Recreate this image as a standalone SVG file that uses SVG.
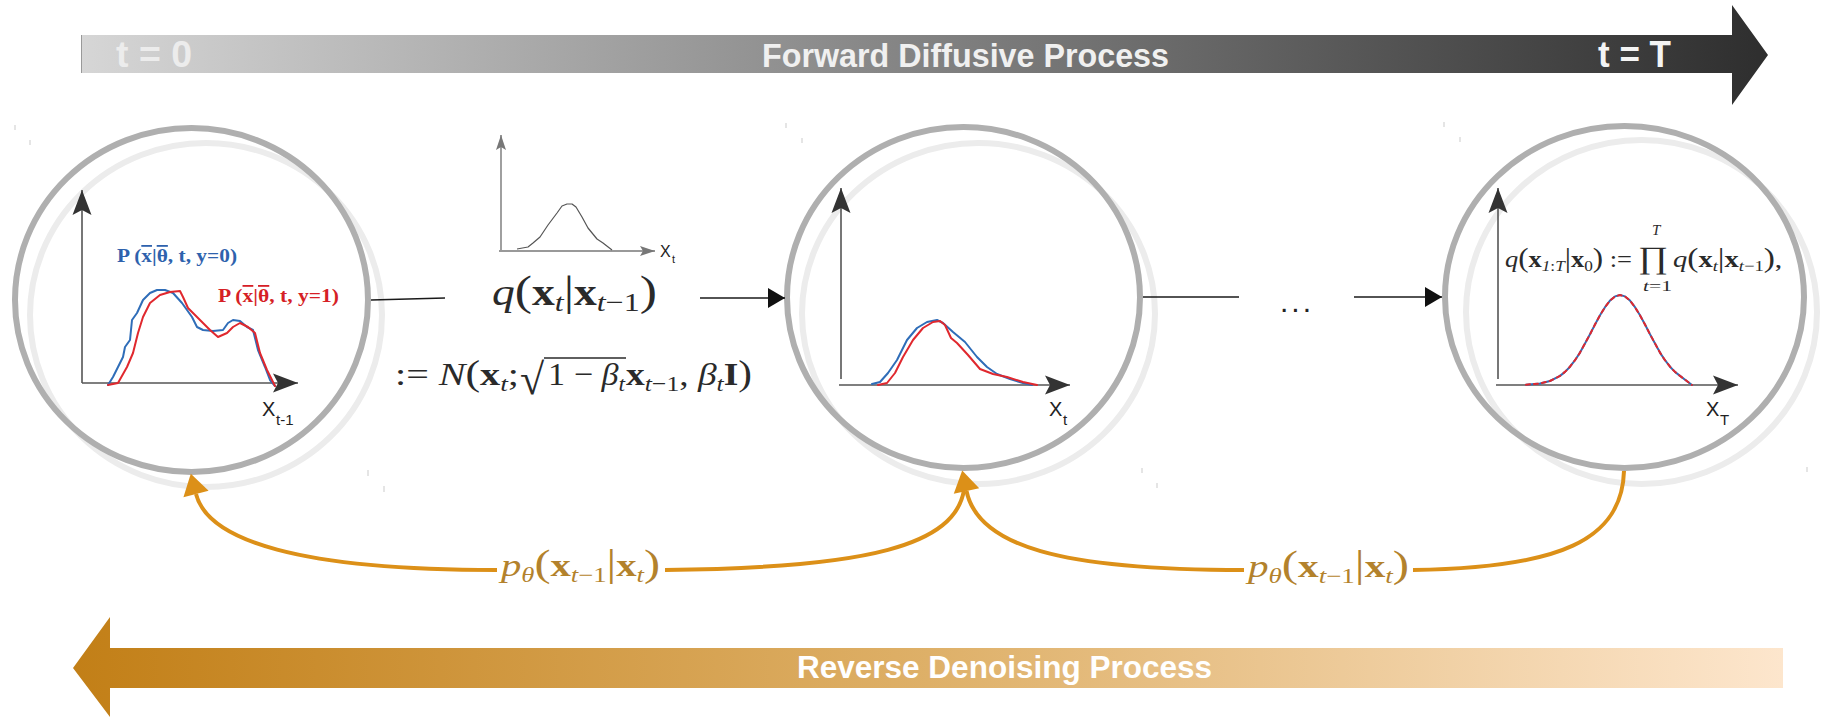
<svg xmlns="http://www.w3.org/2000/svg" width="1824" height="718" viewBox="0 0 1824 718">
<defs>
<linearGradient id="gFwd" gradientUnits="userSpaceOnUse" x1="81" y1="0" x2="1768" y2="0">
<stop offset="0" stop-color="#d6d6d6"/>
<stop offset="1" stop-color="#2e2e2e"/>
</linearGradient>
<linearGradient id="gRev" gradientUnits="userSpaceOnUse" x1="73" y1="0" x2="1783" y2="0">
<stop offset="0" stop-color="#c27f17"/>
<stop offset="0.5" stop-color="#deb068"/>
<stop offset="1" stop-color="#fde6cd"/>
</linearGradient>
<marker id="axisHead" viewBox="-26 -12 28 24" refX="0" refY="0" markerWidth="28" markerHeight="24" markerUnits="userSpaceOnUse" orient="auto">
<path d="M0,0 L-25,-9.5 L-20,0 L-25,9.5 Z" fill="#333"/>
</marker>
<marker id="smallHead" viewBox="-17 -7 19 14" refX="0" refY="0" markerWidth="19" markerHeight="14" markerUnits="userSpaceOnUse" orient="auto">
<path d="M0,0 L-15,-5 L-12,0 L-15,5 Z" fill="#777"/>
</marker>
<marker id="connHead" viewBox="-18 -11 20 22" refX="0" refY="0" markerWidth="20" markerHeight="22" markerUnits="userSpaceOnUse" orient="auto">
<path d="M0,0 L-17,-10 L-17,10 Z" fill="#111"/>
</marker>
<marker id="revHead" viewBox="-22 -14 24 28" refX="-21" refY="0" markerWidth="24" markerHeight="28" markerUnits="userSpaceOnUse" orient="auto">
<path d="M0,0 L-21,-13 L-21,13 Z" fill="#dc9018"/>
</marker>
<style>
.ring { fill:none; stroke:#afafaf; stroke-width:6 }
.ring2 { fill:none; stroke:#ececec; stroke-width:6 }
.axis { stroke:#555; stroke-width:1.6; fill:none; marker-end:url(#axisHead) }
.saxis { stroke:#777; stroke-width:1.4; fill:none; marker-end:url(#smallHead) }
.crop { stroke:#d4d4d4; stroke-width:1.2 }
.conn { stroke:#1a1a1a; stroke-width:1.6; fill:none }
.connA { stroke:#1a1a1a; stroke-width:1.6; fill:none; marker-end:url(#connHead) }
.rev { stroke:#dc9018; stroke-width:4; fill:none }
.revA { stroke:#dc9018; stroke-width:4; fill:none; marker-end:url(#revHead) }
.math { font-family:"Liberation Serif","DejaVu Serif",serif; fill:#2a2a2a }
.plab { font-family:"Liberation Serif","DejaVu Serif",serif; fill:#b3822c; font-size:32px }
.axlbl { font-family:"Liberation Sans","DejaVu Sans",sans-serif; fill:#222 }
.title { font-family:"Liberation Sans","DejaVu Sans",sans-serif; font-weight:bold }
.plbl { font-family:"Liberation Serif","DejaVu Serif",serif; font-weight:bold; font-size:18px }
.blue { stroke:#2f6db8; stroke-width:2; fill:none; stroke-linejoin:round; stroke-linecap:round }
.red { stroke:#e0282e; stroke-width:2; fill:none; stroke-linejoin:round; stroke-linecap:round }
.it { font-style:italic }
.bf { font-weight:bold }
</style>
</defs>

<g id="forward-arrow">
<polygon points="81,35 1732,35 1732,5 1768,55 1732,105 1732,73 81,73" fill="url(#gFwd)"/>
<line x1="81.5" y1="35" x2="81.5" y2="73" stroke="#999" stroke-width="1"/>
<text class="title" x="116" y="67" font-size="37" fill="#ececec" textLength="76" lengthAdjust="spacingAndGlyphs">t = 0</text>
<text class="title" x="762" y="67" font-size="33" fill="#f0f0f0" textLength="407" lengthAdjust="spacingAndGlyphs">Forward Diffusive Process</text>
<text class="title" x="1598" y="67" font-size="37" fill="#f4f4f4" textLength="73" lengthAdjust="spacingAndGlyphs">t = T</text>
</g>

<g id="reverse-arrow">
<polygon points="1783,648 110,648 110,617 73,668 110,717 110,688 1783,688" fill="url(#gRev)"/>
<text class="title" x="797" y="678" font-size="31" fill="#ffffff" textLength="415" lengthAdjust="spacingAndGlyphs">Reverse Denoising Process</text>
</g>

<g id="node-x0">
<ellipse class="ring2" cx="206" cy="315" rx="176" ry="172"/>
<ellipse class="ring" cx="191.5" cy="300" rx="176.5" ry="172"/>
<line class="crop" x1="15" y1="125" x2="15" y2="130"/>
<line class="crop" x1="30" y1="140" x2="30" y2="145"/>
<line class="crop" x1="368" y1="470" x2="368" y2="476"/>
<line class="crop" x1="384" y1="486" x2="384" y2="492"/>
<path class="axis" d="M82,383 L82,190"/>
<path class="axis" d="M82,383 L298,383"/>
<path class="blue" d="M108,385 L113,377 L118,367 L123,357 L125,347 L130,340 L132,320 L137,313 L143,300 L150,293 L157,290 L165,290 L173,293 L182,303 L187,310 L192,317 L197,327 L203,330 L213,331 L223,330 L228,323 L233,320 L240,321 L247,327 L253,330 L258,350 L265,367 L270,380 L275,386"/>
<path class="red" d="M108,385 L118,383 L127,367 L133,353 L138,333 L143,317 L150,303 L160,295 L170,292 L180,291 L183,297 L188,308 L200,320 L210,330 L218,337 L227,333 L233,327 L240,323 L248,327 L255,333 L260,353 L267,370 L275,386"/>
<text class="plbl" x="117" y="262" fill="#2e62ad" textLength="120" lengthAdjust="spacingAndGlyphs">P (<tspan text-decoration="overline">x</tspan>|<tspan text-decoration="overline">θ</tspan>, t, y=0)</text>
<text class="plbl" x="218" y="302" fill="#d61f26" textLength="121" lengthAdjust="spacingAndGlyphs">P (<tspan text-decoration="overline">x</tspan>|<tspan text-decoration="overline">θ</tspan>, t, y=1)</text>
<text class="axlbl" x="262" y="416" font-size="20">X</text>
<text class="axlbl" x="276" y="425" font-size="15">t-1</text>
</g>

<g id="node-xt">
<ellipse class="ring2" cx="978.5" cy="313.5" rx="176.5" ry="170.5"/>
<ellipse class="ring" cx="963.5" cy="297.5" rx="176.5" ry="170.5"/>
<line class="crop" x1="786" y1="123" x2="786" y2="128"/>
<line class="crop" x1="802" y1="138" x2="802" y2="143"/>
<line class="crop" x1="1142" y1="468" x2="1142" y2="473"/>
<line class="crop" x1="1157" y1="483" x2="1157" y2="488"/>
<path class="axis" d="M841,379 L841,188"/>
<path class="axis" d="M839,385 L1070,385"/>
<path class="blue" stroke-width="2.6" d="M872,384 L880,382 L888,373 L897,360 L907,340 L917,328 L927,322 L937,320 L943,323 L953,332 L965,342 L977,357 L987,367 L997,374 L1010,379 L1023,383 L1032,385"/>
<path class="red" stroke-width="2.4" stroke="#e8383d" d="M878,385 L887,383 L895,373 L903,357 L913,340 L923,328 L933,322 L940,321 L945,325 L951,338 L957,343 L968,355 L980,369 L993,374 L1007,377 L1023,382 L1037,385"/>
<text class="axlbl" x="1049" y="416" font-size="20">X</text>
<text class="axlbl" x="1063" y="425" font-size="15">t</text>
</g>

<g id="node-xT">
<ellipse class="ring2" cx="1641.5" cy="312" rx="175.5" ry="172"/>
<ellipse class="ring" cx="1624.5" cy="297" rx="179.5" ry="171"/>
<line class="crop" x1="1444" y1="122" x2="1444" y2="127"/>
<line class="crop" x1="1460" y1="137" x2="1460" y2="142"/>
<line class="crop" x1="1807" y1="467" x2="1807" y2="472"/>
<path class="axis" d="M1498,379 L1498,188"/>
<path class="axis" d="M1496,385 L1738,385"/>
<path class="blue" stroke-width="3" d="M1526,384.7 L1540,383.5 L1550,381 L1560,375.9 L1565,371.9 L1570,366.7 L1575,360.2 L1580,352.6 L1585,343.4 L1590,334.3 L1595,324.5 L1600,315.3 L1605,307.2 L1610,300.6 L1615,296.4 L1620,295 L1625,296.4 L1630,300.6 L1635,307.2 L1640,315.3 L1645,324.5 L1650,334.3 L1655,343.4 L1660,352.6 L1665,360.2 L1670,366.7 L1675,371.9 L1680,375.9 L1692,385"/>
<path class="red" stroke-width="3" stroke-linecap="butt" stroke-dasharray="4 4" d="M1526,384.7 L1540,383.5 L1550,381 L1560,375.9 L1565,371.9 L1570,366.7 L1575,360.2 L1580,352.6 L1585,343.4 L1590,334.3 L1595,324.5 L1600,315.3 L1605,307.2 L1610,300.6 L1615,296.4 L1620,295 L1625,296.4 L1630,300.6 L1635,307.2 L1640,315.3 L1645,324.5 L1650,334.3 L1655,343.4 L1660,352.6 L1665,360.2 L1670,366.7 L1675,371.9 L1680,375.9 L1692,385"/>
<text class="math" x="1505" y="267" font-size="23" textLength="127" lengthAdjust="spacingAndGlyphs"><tspan class="it">q</tspan><tspan font-size="27">(</tspan><tspan class="bf">x</tspan><tspan font-size="15" dy="4"><tspan class="it">1</tspan>:<tspan class="it">T</tspan></tspan><tspan dy="-4" font-size="27">|</tspan><tspan class="bf">x</tspan><tspan font-size="15" dy="4">0</tspan><tspan dy="-4" font-size="27">)</tspan> :=</text>
<text class="math" x="1638" y="268" font-size="31" textLength="30" lengthAdjust="spacingAndGlyphs">∏</text>
<text class="math it" x="1652" y="235" font-size="15">T</text>
<text class="math" x="1643" y="291" font-size="15" textLength="29" lengthAdjust="spacingAndGlyphs"><tspan class="it">t</tspan>=1</text>
<text class="math" x="1673" y="267" font-size="23" textLength="109" lengthAdjust="spacingAndGlyphs"><tspan class="it">q</tspan><tspan font-size="27">(</tspan><tspan class="bf">x</tspan><tspan class="it" font-size="15" dy="4">t</tspan><tspan dy="-4" font-size="27">|</tspan><tspan class="bf">x</tspan><tspan class="it" font-size="15" dy="4">t</tspan><tspan font-size="15">−1</tspan><tspan dy="-4" font-size="27">)</tspan>,</text>
<text class="axlbl" x="1706" y="416" font-size="20">X</text>
<text class="axlbl" x="1720" y="425" font-size="15">T</text>
</g>

<g id="connectors">
<line class="conn" x1="371" y1="300" x2="445" y2="298"/>
<line class="connA" x1="700" y1="298" x2="785" y2="298"/>
<line class="conn" x1="1143" y1="297" x2="1239" y2="297"/>
<line class="connA" x1="1354" y1="297" x2="1442" y2="297"/>
<path class="revA" d="M497,570 C300,570 208,541 196,494"/>
<path class="rev" d="M964,490 C955,545 870,568 665,570"/>
<path class="revA" d="M1244,570 C1060,570 978,546 966.5,491"/>
<path class="rev" d="M1624,471 C1622,540 1560,568 1413,570"/>
</g>

<g id="label-q">
<path class="saxis" d="M501,250 L501,135"/>
<path class="saxis" d="M499,251 L655,251"/>
<path fill="none" stroke="#555" stroke-width="1.2" stroke-linejoin="round" d="M517,249 L528,247 L533,243 L540,237 L548,225 L557,213 L562,206 L567,204 L572,204 L576,207 L582,217 L588,228 L597,239 L603,243 L612,250"/>
<text class="axlbl" x="660" y="257" font-size="16" fill="#555">X</text>
<text class="axlbl" x="672" y="263" font-size="11" fill="#555">t</text>
<text class="math" x="492" y="305" font-size="37" textLength="165" lengthAdjust="spacingAndGlyphs"><tspan class="it">q</tspan><tspan font-size="42">(</tspan><tspan class="bf">x</tspan><tspan class="it" font-size="26" dy="6">t</tspan><tspan dy="-6" font-size="42">|</tspan><tspan class="bf">x</tspan><tspan class="it" font-size="26" dy="6">t</tspan><tspan font-size="26">−1</tspan><tspan dy="-6" font-size="42">)</tspan></text>
<text class="math" x="395" y="385" font-size="32" textLength="124" lengthAdjust="spacingAndGlyphs">:= <tspan class="it">N</tspan><tspan font-size="35">(</tspan><tspan class="bf">x</tspan><tspan class="it" font-size="22" dy="6">t</tspan><tspan dy="-6">;</tspan></text>
<text class="math" x="520" y="394" font-size="44">√</text>
<line x1="544" y1="358" x2="626" y2="358" stroke="#2a2a2a" stroke-width="1.6"/>
<text class="math" x="548" y="385" font-size="32" textLength="77" lengthAdjust="spacingAndGlyphs">1 − <tspan class="it">β</tspan><tspan class="it" font-size="22" dy="6">t</tspan></text>
<text class="math" x="626" y="385" font-size="32" textLength="126" lengthAdjust="spacingAndGlyphs"><tspan class="bf">x</tspan><tspan class="it" font-size="22" dy="6">t</tspan><tspan font-size="22">−1</tspan><tspan dy="-6">, </tspan><tspan class="it">β</tspan><tspan class="it" font-size="22" dy="6">t</tspan><tspan class="bf" dy="-6">I</tspan><tspan font-size="35">)</tspan></text>
</g>

<g id="label-dots">
<text class="axlbl" x="1280" y="312" font-size="30" letter-spacing="3">...</text>
</g>

<g id="label-p1">
<text class="plab" x="501" y="576" textLength="159" lengthAdjust="spacingAndGlyphs"><tspan class="it">p</tspan><tspan class="it" font-size="21" dy="6">θ</tspan><tspan font-size="38" dy="-6">(</tspan><tspan class="bf">x</tspan><tspan class="it" font-size="21" dy="6">t</tspan><tspan font-size="21">−1</tspan><tspan font-size="38" dy="-6">|</tspan><tspan class="bf">x</tspan><tspan class="it" font-size="21" dy="6">t</tspan><tspan font-size="38" dy="-6">)</tspan></text>
</g>
<g id="label-p2">
<text class="plab" x="1248" y="577" textLength="161" lengthAdjust="spacingAndGlyphs"><tspan class="it">p</tspan><tspan class="it" font-size="21" dy="6">θ</tspan><tspan font-size="38" dy="-6">(</tspan><tspan class="bf">x</tspan><tspan class="it" font-size="21" dy="6">t</tspan><tspan font-size="21">−1</tspan><tspan font-size="38" dy="-6">|</tspan><tspan class="bf">x</tspan><tspan class="it" font-size="21" dy="6">t</tspan><tspan font-size="38" dy="-6">)</tspan></text>
</g>
</svg>
